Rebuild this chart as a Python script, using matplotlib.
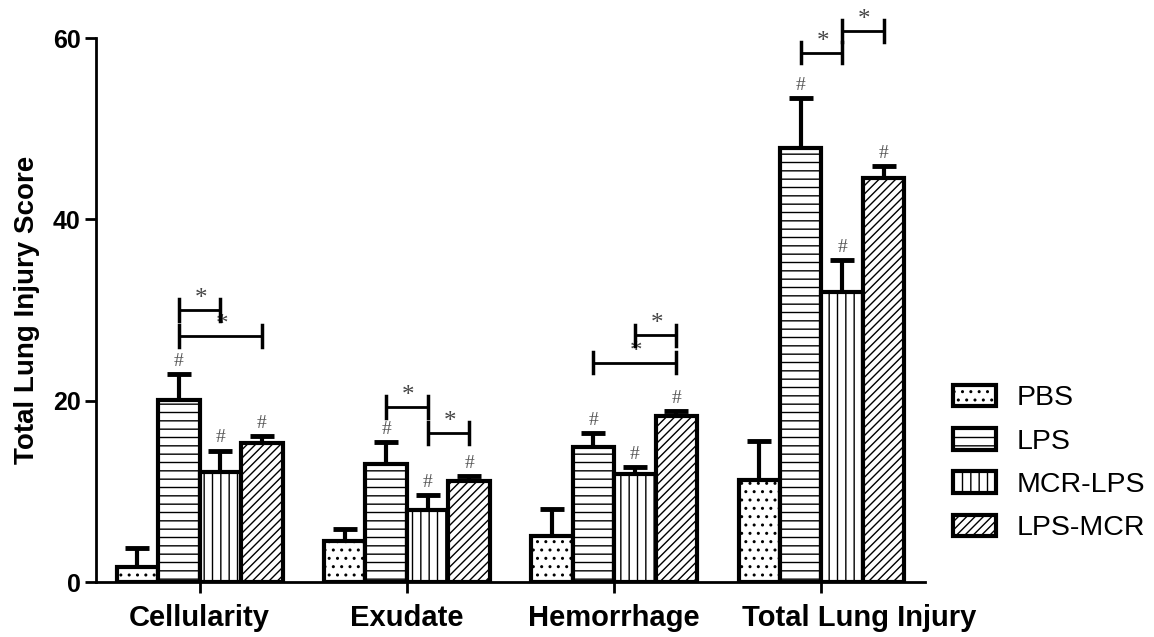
import numpy as np
import matplotlib
matplotlib.use("Agg")
from matplotlib import pyplot as plt
from matplotlib.patches import Patch
from matplotlib.transforms import ScaledTranslation

plt.rcParams['font.family'] = ['Liberation Sans', 'DejaVu Sans']
plt.rcParams['hatch.linewidth'] = 1.0
plt.rcParams['hatch.color'] = 'black'

# group labels and treatment series
categories = ["Cellularity", "Exudate", "Hemorrhage", "Total Lung Injury"]
groups = ["PBS", "LPS", "MCR-LPS", "LPS-MCR"]

pbs = [1.7, 4.5, 5.1, 11.2]
lps = [20.1, 13.0, 14.9, 47.9]
mcr_lps = [12.1, 7.9, 11.9, 32.0]
lps_mcr = [15.3, 11.1, 18.3, 44.6]

pbs_err = [2.0, 1.4, 2.9, 4.3]
lps_err = [2.8, 2.4, 1.5, 5.5]
mcr_lps_err = [2.4, 1.7, 0.8, 3.5]
lps_mcr_err = [0.8, 0.6, 0.6, 1.3]

# '#' marks: significant vs PBS (True per group/category)
hash_marks = [False, True, True, True]

# significance brackets: (category, bar a, bar b, height)
brackets = [
    (0, 1, 2, 30.0), (0, 1, 3, 27.1),
    (1, 1, 2, 19.3), (1, 2, 3, 16.4),
    (2, 2, 3, 27.2), (2, 1, 3, 24.2),
    (3, 1, 2, 58.4), (3, 2, 3, 60.8),
]

values = [pbs, lps, mcr_lps, lps_mcr]
errors = [pbs_err, lps_err, mcr_lps_err, lps_mcr_err]
hatches = ["..", "--", "||", "////"]

fig = plt.figure(figsize=(11.54, 6.37), dpi=100)
ax = fig.add_axes([0.0832, 0.0863, 0.8016 - 0.0832, 0.9403 - 0.0863])

x = np.arange(len(categories))
width = 0.2
offsets = [-0.3, -0.1, 0.1, 0.3]

for i in range(len(groups)):
    xs = x + offsets[i]
    ax.errorbar(xs, values[i], yerr=[np.zeros(len(x)), errors[i]], fmt="none",
                ecolor="black", elinewidth=3, capsize=8.5, capthick=3.5, zorder=2)
    ax.bar(xs, values[i], width=width, color="white", edgecolor="black",
           linewidth=3, hatch=hatches[i], zorder=3)
    if hash_marks[i]:
        for xi, v, e in zip(xs, values[i], errors[i]):
            ax.annotate("#", (xi, v + e), xytext=(0, 3), textcoords="offset points",
                        ha="center", va="bottom", fontsize=14, color="#555555",
                        family="Liberation Serif")

# brackets with a star on top
for c, a, b, h in brackets:
    xa = c + offsets[a]
    xb = c + offsets[b]
    ax.plot([xa, xb], [h, h], color="black", lw=2, clip_on=False, zorder=4)
    ax.plot([xa, xa], [h - 1.2, h + 1.2], color="black", lw=2.5, clip_on=False, zorder=4)
    ax.plot([xb, xb], [h - 1.2, h + 1.2], color="black", lw=2.5, clip_on=False, zorder=4)
    ax.annotate("*", ((xa + xb) / 2, h), xytext=(1, 0), textcoords="offset points",
                ha="center", va="bottom", fontsize=18, color="#444444",
                family="Liberation Serif", annotation_clip=False)

ax.set_xlim(-0.5, 3.5)
ax.set_ylim(0, 60)
ax.set_yticks([0, 20, 40, 60])
ax.set_xticks(x)
ax.set_xticklabels(categories, fontsize=21, fontweight="bold")
ax.tick_params(axis="y", labelsize=18, width=2, length=8, pad=3)
ax.tick_params(axis="x", width=2, length=8, pad=8)
for lab in ax.get_yticklabels():
    lab.set_fontweight("bold")
# last label nudged right so it clears "Hemorrhage"
last = ax.get_xticklabels()[-1]
last.set_transform(last.get_transform() + ScaledTranslation(0.38, 0, fig.dpi_scale_trans))
ax.set_ylabel("Total Lung Injury Score", fontsize=20, fontweight="bold", labelpad=9)

ax.spines["top"].set_visible(False)
ax.spines["right"].set_visible(False)
ax.spines["left"].set_linewidth(2)
ax.spines["bottom"].set_linewidth(2)

handles = [Patch(facecolor="white", edgecolor="black", linewidth=3, hatch=h) for h in hatches]
fig.legend(handles, groups, loc="center left", bbox_to_anchor=(0.8085, 1 - 463 / 637),
           frameon=False, fontsize=20.5, handlelength=1.5, handleheight=0.8,
           handletextpad=0.72, labelspacing=0.58, borderpad=0.2)

fig.savefig("out.png", dpi=100)
